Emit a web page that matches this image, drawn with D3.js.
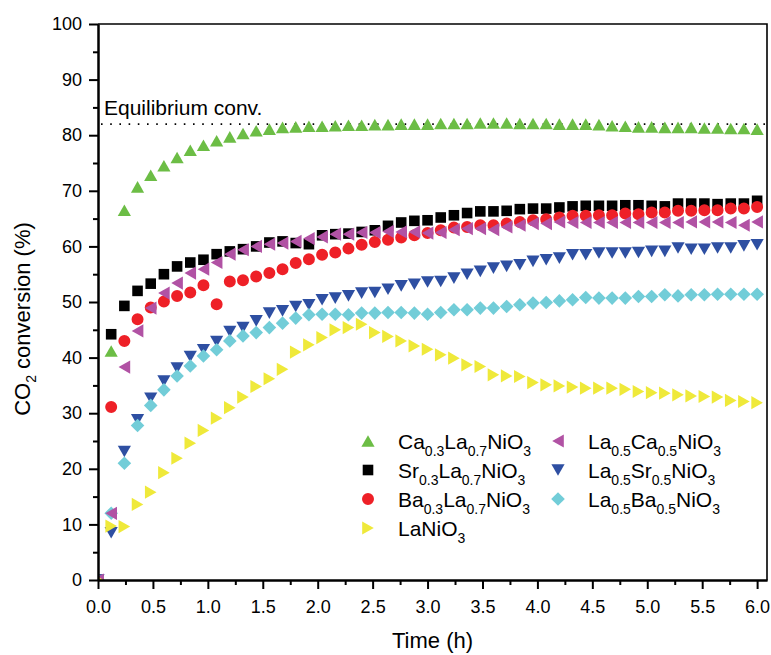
<!DOCTYPE html>
<html>
<head>
<script src="https://d3js.org/d3.v7.min.js"></script>
<style>
  body { margin: 0; background: #fff; }
  text { font-family: "Liberation Sans", Arial, sans-serif; fill: #000; }
</style>
</head>
<body>
<svg id="chart" width="771" height="655"></svg>
<script>
// sampling times (h)
const time = [0, 0.12, 0.24, 0.36, 0.48, 0.60, 0.72, 0.84, 0.96, 1.08, 1.20, 1.32, 1.44, 1.56, 1.68,
  1.80, 1.92, 2.04, 2.16, 2.28, 2.40, 2.52, 2.64, 2.76, 2.88, 3.00, 3.12, 3.24, 3.36, 3.48, 3.60,
  3.72, 3.84, 3.96, 4.08, 4.20, 4.32, 4.44, 4.56, 4.68, 4.80, 4.92, 5.04, 5.16, 5.28, 5.40, 5.52,
  5.64, 5.76, 5.88, 6.00];

// CO2 conversion (%) per catalyst
const caLa = [0, 41.2, 66.5, 70.7, 72.8, 74.5, 76.0, 77.3, 78.2, 79.0, 79.7, 80.3, 80.8, 81.1, 81.4,
  81.5, 81.6, 81.6, 81.7, 81.8, 81.8, 81.9, 81.9, 82.0, 82.0, 82.0, 82.1, 82.1, 82.1, 82.2, 82.2,
  82.2, 82.1, 82.1, 82.1, 82.0, 82.0, 82.0, 81.9, 81.7, 81.6, 81.5, 81.5, 81.4, 81.4, 81.4, 81.3,
  81.3, 81.2, 81.2, 81.1];
const srLa = [0, 44.2, 49.3, 52.0, 53.3, 55.0, 56.4, 57.1, 57.6, 58.6, 59.1, 59.5, 60.0, 60.7, 60.9,
  60.6, 60.4, 62.0, 62.2, 62.3, 62.6, 62.9, 63.7, 64.3, 64.6, 64.7, 65.2, 65.6, 66.0, 66.3, 66.3,
  66.4, 66.7, 66.8, 66.8, 67.0, 67.2, 67.3, 67.3, 67.3, 67.4, 67.4, 67.3, 67.2, 67.7, 67.7, 67.7,
  67.6, 67.7, 67.7, 68.2];
const baLa = [0, 31.1, 43.0, 46.9, 49.0, 50.1, 51.1, 51.7, 53.0, 49.6, 53.7, 53.9, 54.6, 55.2, 55.9,
  57.0, 57.7, 58.5, 58.9, 59.6, 60.3, 60.8, 61.2, 61.6, 62.0, 62.4, 62.9, 63.4, 63.5, 63.8, 63.8,
  64.1, 64.4, 64.7, 64.9, 65.2, 65.5, 65.5, 65.6, 65.6, 65.9, 65.8, 66.1, 66.1, 66.4, 66.4, 66.5,
  66.5, 66.8, 66.8, 67.1];
const laNi = [0, 9.7, 9.6, 13.6, 15.8, 19.3, 21.9, 24.6, 26.9, 29.1, 31.0, 32.9, 34.8, 36.2, 37.9,
  41.0, 42.3, 43.6, 45.0, 45.4, 46.0, 44.5, 43.8, 43.0, 42.1, 41.5, 40.5, 39.9, 38.7, 38.4, 36.9,
  36.7, 36.6, 35.5, 35.1, 34.9, 34.7, 34.5, 34.5, 34.5, 34.3, 33.9, 33.7, 33.6, 33.3, 33.1, 33.0,
  32.9, 32.3, 32.1, 31.9];
const laCa = [0, 12.0, 38.3, 44.8, 48.9, 51.6, 53.4, 55.2, 55.9, 57.1, 58.6, 59.4, 60.0, 60.4, 60.6,
  60.9, 61.4, 61.7, 62.2, 62.2, 62.5, 62.5, 62.7, 62.6, 62.6, 62.4, 62.5, 63.0, 63.2, 63.2, 63.0,
  63.5, 63.8, 64.1, 64.1, 64.4, 64.3, 64.3, 64.3, 64.3, 64.3, 64.3, 64.3, 64.3, 64.3, 64.4, 64.4,
  64.4, 64.3, 63.8, 64.4];
const laSr = [0, 8.5, 23.1, 28.8, 32.7, 35.8, 38.1, 40.2, 41.4, 42.9, 44.7, 45.4, 46.6, 48.0, 48.4,
  49.2, 49.5, 50.4, 50.7, 51.1, 51.6, 51.7, 52.3, 52.9, 53.2, 53.6, 53.7, 54.3, 55.0, 55.5, 56.1,
  56.4, 56.7, 57.3, 57.6, 57.9, 58.5, 58.5, 58.8, 58.8, 58.8, 58.9, 59.1, 59.1, 59.7, 59.5, 59.5,
  59.7, 59.7, 60.1, 60.3];
const laBa = [0, 12.0, 21.0, 27.8, 31.4, 34.2, 36.7, 38.5, 40.3, 41.4, 43.0, 43.9, 44.5, 45.4, 46.2,
  47.1, 47.7, 47.8, 47.8, 47.7, 48.0, 48.0, 48.1, 48.1, 48.0, 47.8, 48.1, 48.6, 48.6, 48.9, 48.9,
  49.2, 49.5, 49.8, 49.9, 50.2, 50.4, 50.8, 50.7, 50.7, 50.7, 51.0, 51.0, 51.3, 51.1, 51.3, 51.3,
  51.4, 51.4, 51.4, 51.4];

const equilibrium = 82;

// legend labels: [text, isSubscript]
const labels = [
  [["Ca", 0], ["0.3", 1], ["La", 0], ["0.7", 1], ["NiO", 0], ["3", 1]],
  [["Sr", 0], ["0.3", 1], ["La", 0], ["0.7", 1], ["NiO", 0], ["3", 1]],
  [["Ba", 0], ["0.3", 1], ["La", 0], ["0.7", 1], ["NiO", 0], ["3", 1]],
  [["LaNiO", 0], ["3", 1]],
  [["La", 0], ["0.5", 1], ["Ca", 0], ["0.5", 1], ["NiO", 0], ["3", 1]],
  [["La", 0], ["0.5", 1], ["Sr", 0], ["0.5", 1], ["NiO", 0], ["3", 1]],
  [["La", 0], ["0.5", 1], ["Ba", 0], ["0.5", 1], ["NiO", 0], ["3", 1]]
];

const xTicks = [0, 0.5, 1, 1.5, 2, 2.5, 3, 3.5, 4, 4.5, 5, 5.5, 6];
const xMinor = [0.25, 0.75, 1.25, 1.75, 2.25, 2.75, 3.25, 3.75, 4.25, 4.75, 5.25, 5.75];
const yTicks = [0, 10, 20, 30, 40, 50, 60, 70, 80, 90, 100];
const yMinor = [5, 15, 25, 35, 45, 55, 65, 75, 85, 95];

// legend order; z = drawing order of the markers
const series = [
  { values: caLa, color: "#6cbd45", shape: "up", z: 0 },
  { values: srLa, color: "#000000", shape: "square", z: 1 },
  { values: baLa, color: "#ee2027", shape: "circle", z: 2 },
  { values: laNi, color: "#efe93a", shape: "right", z: 6 },
  { values: laCa, color: "#b152a4", shape: "left", z: 5 },
  { values: laSr, color: "#2e4fa2", shape: "down", z: 3 },
  { values: laBa, color: "#72cdd8", shape: "diamond", z: 4 }
];

// marker paths centered on 0,0
function marker(shape) {
  const b = 6.6, h = 5.8;
  switch (shape) {
    case "up": return `M0,${-h}L${b},${h}L${-b},${h}Z`;
    case "down": return `M0,${h}L${b},${-h}L${-b},${-h}Z`;
    case "left": return `M${-h},0L${h},${-b}L${h},${b}Z`;
    case "right": return `M${h},0L${-h},${-b}L${-h},${b}Z`;
    case "square": return "M-5.3,-5.3H5.3V5.3H-5.3Z";
    case "diamond": return "M0,-6.8L6.8,0L0,6.8L-6.8,0Z";
    default: return d3.symbol(d3.symbolCircle, 113)();
  }
}

const svg = d3.select("#chart");
const x = d3.scaleLinear().domain([0, 6.09]).range([98, 767]);
const y = d3.scaleLinear().domain([0, 100]).range([580, 24]);

svg.append("clipPath").attr("id", "plot")
  .append("rect")
  .attr("x", x(0)).attr("y", y(100))
  .attr("width", x(6.09) - x(0)).attr("height", y(0) - y(100));

// equilibrium line + label
svg.append("line")
  .attr("x1", x(0) + 3).attr("x2", x(6.09))
  .attr("y1", y(equilibrium)).attr("y2", y(equilibrium))
  .attr("stroke", "#000").attr("stroke-width", 1.6)
  .attr("stroke-dasharray", "1.6,7.6");
svg.append("text")
  .attr("x", 104).attr("y", y(equilibrium) - 9)
  .style("font-size", "21px")
  .text("Equilibrium conv.");

// data markers
const plot = svg.append("g").attr("clip-path", "url(#plot)");
series.slice().sort((a, b) => a.z - b.z).forEach(s => {
  plot.append("g").selectAll("path")
    .data(s.values)
    .enter()
    .append("path")
    .attr("d", marker(s.shape))
    .attr("transform", (d, i) => `translate(${x(time[i])},${y(d)})`)
    .attr("fill", s.color);
});

// axes
function styleAxis(g) {
  g.selectAll("path, line").attr("stroke", "#000").attr("stroke-width", 2);
  g.selectAll("text").style("font-size", "18px");
}
svg.append("g").attr("transform", `translate(0,${y(0)})`)
  .call(d3.axisBottom(x).tickValues(xTicks).tickFormat(d3.format(".1f"))
    .tickSize(9).tickSizeOuter(0).tickPadding(11))
  .call(styleAxis);
svg.append("g").attr("transform", `translate(0,${y(0)})`)
  .call(d3.axisBottom(x).tickValues(xMinor).tickFormat("").tickSize(5).tickSizeOuter(0))
  .call(styleAxis);
svg.append("g").attr("transform", `translate(${x(0)},0)`)
  .call(d3.axisLeft(y).tickValues(yTicks).tickSize(9).tickSizeOuter(0).tickPadding(7))
  .call(styleAxis);
svg.append("g").attr("transform", `translate(${x(0)},0)`)
  .call(d3.axisLeft(y).tickValues(yMinor).tickFormat("").tickSize(5).tickSizeOuter(0))
  .call(styleAxis);

// top and right frame
svg.append("path")
  .attr("d", `M${x(0)},${y(100)}H${x(6.09)}V${y(0)}`)
  .attr("fill", "none").attr("stroke", "#000").attr("stroke-width", 1.6);

// axis titles
svg.append("text")
  .attr("x", (x(0) + x(6.09)) / 2).attr("y", 648)
  .attr("text-anchor", "middle").style("font-size", "22px")
  .text("Time (h)");
const yt = svg.append("text")
  .attr("transform", "translate(30,319) rotate(-90)")
  .attr("text-anchor", "middle").style("font-size", "22px");
yt.append("tspan").text("CO");
yt.append("tspan").attr("dy", 6).style("font-size", "14px").text("2");
yt.append("tspan").attr("dy", -6).text(" conversion (%)");

// legend
const legend = svg.append("g");
series.forEach((s, i) => {
  const col = i < 4 ? 0 : 1;
  const row = i < 4 ? i : i - 4;
  const mx = col === 0 ? 368 : 558;
  const my = 441 + row * 29;
  legend.append("path").attr("d", marker(s.shape))
    .attr("transform", `translate(${mx},${my})`).attr("fill", s.color);
  const t = legend.append("text").attr("x", mx + 30).attr("y", my + 8).style("font-size", "21px");
  let prevSub = 0;
  labels[i].forEach(([txt, sub]) => {
    const shift = (sub ? 7 : 0) - (prevSub ? 7 : 0);
    t.append("tspan").attr("dy", shift).style("font-size", sub ? "14px" : "21px").text(txt);
    prevSub = sub;
  });
});
</script>
</body>
</html>
